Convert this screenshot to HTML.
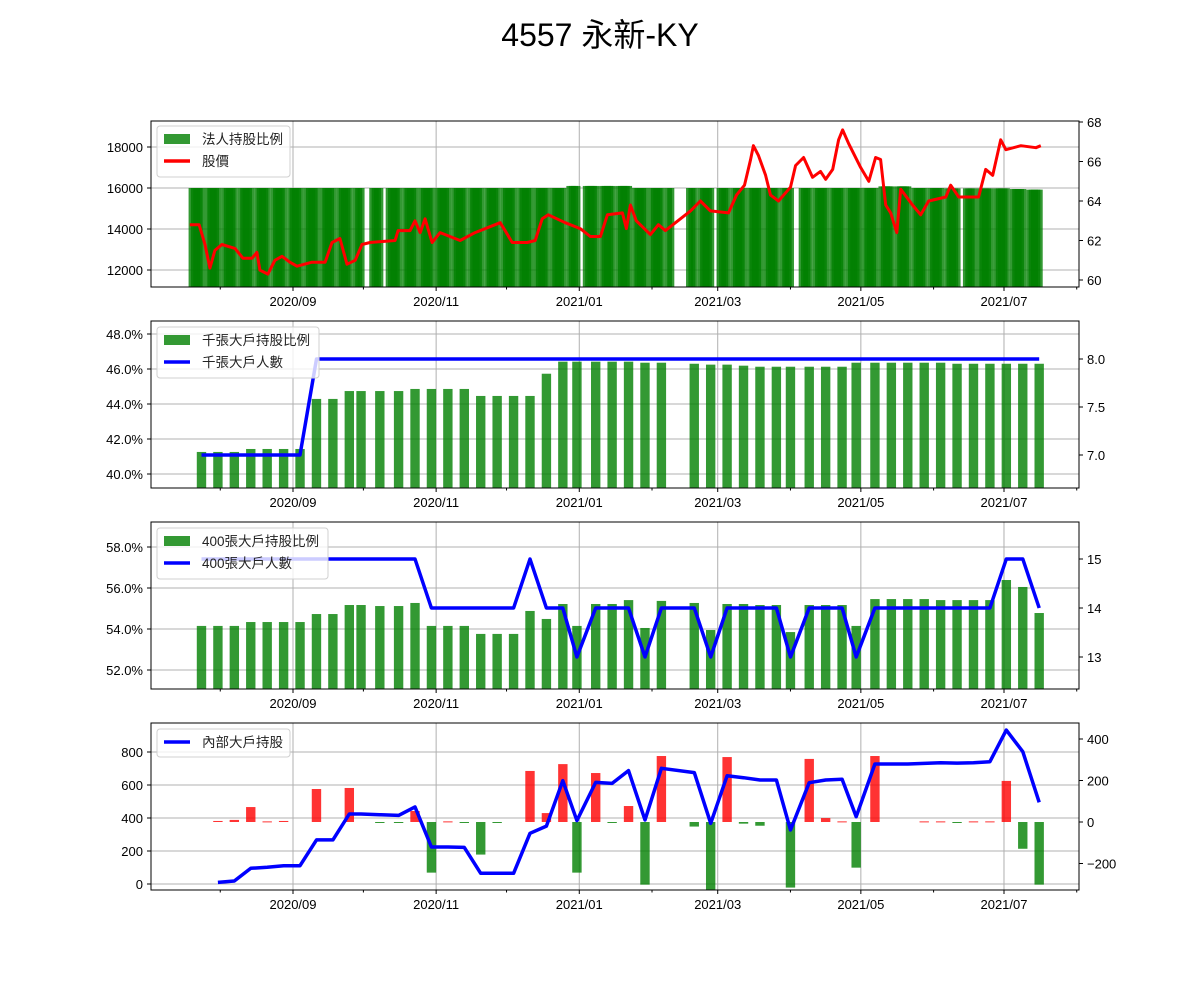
<!DOCTYPE html>
<html><head><meta charset="utf-8">
<style>
html,body{margin:0;padding:0;background:#fff;}
svg{display:block;font-family:"Liberation Sans","Noto Sans CJK TC",sans-serif;}
</style></head>
<body>
<svg id="chart" width="1200" height="1000" viewBox="0 0 1200 1000" xmlns="http://www.w3.org/2000/svg">
<text x="600" y="46" text-anchor="middle" font-size="32" fill="#000">4557 永新-KY</text>
</svg>
<script>
// Days are counted from 2020-09-01
const priceDay = [-44,-40,-37.5,-35.4,-33.3,-30.3,-24.7,-21.3,-17.5,-15.4,-14.1,-10.7,-7.7,-4.7,-1.3,1.7,8.1,13.7,16.6,20,23,26.5,29.4,32.8,43.5,44.8,49.9,52,54.2,56.3,59.3,62.7,71.2,77.6,84,88.3,90.4,93.4,99.8,103.2,106.2,108.8,116,122.4,126.7,131,134,140.4,142.1,143.8,146.3,152.3,155.7,158.7,169.4,173.6,177.9,185.6,189,192.4,195,196.2,198.4,201.4,203.5,206.9,212,214.2,217.6,221.4,224.8,227,230,232.5,234.2,236.8,241.9,245.4,248.3,250.4,252.6,254.7,257.3,259,264,267.5,270.9,278.2,280.3,283.7,292.2,295.2,298.2,301.6,303.8,310.2,316.6,318.7];
const priceVal = [62.8,62.8,61.8,60.6,61.5,61.8,61.6,61.1,61.1,61.4,60.5,60.3,61.0,61.2,60.9,60.7,60.9,60.9,61.9,62.1,60.8,61.0,61.8,61.9,62.0,62.5,62.5,63.0,62.4,63.1,61.9,62.4,62.0,62.4,62.7,62.9,62.5,61.9,61.9,62.0,63.1,63.3,62.9,62.6,62.2,62.2,63.3,63.4,62.6,63.8,63.0,62.3,62.8,62.5,63.5,64.0,63.5,63.4,64.3,64.8,66.1,66.8,66.3,65.3,64.3,64.0,64.7,65.8,66.2,65.2,65.5,65.1,65.6,67.1,67.6,66.9,65.7,65.0,66.2,66.1,63.8,63.4,62.4,64.6,63.8,63.3,64.0,64.2,64.8,64.2,64.2,65.6,65.3,67.1,66.6,66.8,66.7,66.8];
// institutional holding, one value per week starting 2020-07-20
const instWeekVal = [16000,16000,16000,16000,16000,16000,16000,16000,16000,16000,16000,16000,16000,16000,16000,16000,16000,16000,16000,16000,16000,16000,16000,16100,16100,16100,16100,16000,16000,16000,16000,16000,16000,16000,16000,16000,16000,16000,16000,16000,16000,16000,16080,16080,16000,16000,15980,15980,15980,15980,15950,15920];
const holidays = [30,31,38,122,162,163,164,165,166,167,168,181,213,216,286];
const wkDay = [-39,-32,-25,-18,-11,-4,3,10,17,24,29,37,45,52,59,66,73,80,87,94,101,108,115,121,129,136,143,150,157,171,178,185,192,199,206,212,220,227,234,240,248,255,262,269,276,283,290,297,304,311,318];
const big1000Pct = [41.26,41.26,41.26,41.43,41.43,41.43,41.43,44.29,44.29,44.74,44.74,44.74,44.74,44.86,44.86,44.86,44.86,44.46,44.46,44.46,44.46,45.73,46.42,46.42,46.42,46.42,46.42,46.36,46.36,46.30,46.25,46.25,46.19,46.13,46.13,46.13,46.13,46.13,46.13,46.36,46.36,46.36,46.36,46.36,46.36,46.30,46.30,46.30,46.30,46.30,46.30];
const big1000Cnt = [7,7,7,7,7,7,7,8,8,8,8,8,8,8,8,8,8,8,8,8,8,8,8,8,8,8,8,8,8,8,8,8,8,8,8,8,8,8,8,8,8,8,8,8,8,8,8,8,8,8,8];
const big400Pct = [54.15,54.15,54.15,54.34,54.34,54.34,54.34,54.73,54.73,55.17,55.17,55.12,55.12,55.27,54.15,54.15,54.15,53.76,53.76,53.76,54.88,54.49,55.22,54.15,55.22,55.22,55.41,54.05,55.37,55.27,53.95,55.22,55.22,55.17,55.17,53.85,55.17,55.17,55.17,54.15,55.46,55.46,55.46,55.46,55.41,55.41,55.41,55.41,56.39,56.05,54.78];
const big400Cnt = [15,15,15,15,15,15,15,15,15,15,15,15,15,15,14,14,14,14,14,14,15,14,14,13,14,14,14,13,14,14,13,14,14,14,14,13,14,14,14,13,14,14,14,14,14,14,14,14,15,15,14];
const insDay = [-32,-25,-18,-11,-4,3,10,17,24,29,37,45,52,59,66,73,80,87,94,101,108,115,121,129,136,143,150,157,171,178,185,192,199,206,212,220,227,234,240,248,255,262,269,276,283,290,297,304,311,318];
const insVal = [10,18,95,101,111,111,267,267,424,424,420,416,467,224,224,222,65,65,65,307,351,626,384,616,610,687,388,701,675,368,656,644,630,630,327,614,630,635,408,727,727,727,731,735,733,735,741,933,802,495];
const insChg = [5,10,72,3,5,0,159,0,164,0,-3,-3,53,-244,3,-3,-157,-3,0,246,43,279,-244,236,-3,77,-302,318,-22,-328,313,-8,-18,0,-316,304,19,3,-220,318,0,0,3,3,-3,3,3,198,-129,-302];
const xMajorDay = [0,61,122,181,242,303];
const xMajorLabel = ["2020/09","2020/11","2021/01","2021/03","2021/05","2021/07"];
const xMinorDay = [-31,30,91,153,212,273,334];

const NS = "http://www.w3.org/2000/svg";
const svg = document.getElementById("chart");
const AX_L = 151, AX_R = 1079;
function xs(d){ return 293 + d * 2.3465; }
function lin(v0, p0, v1, p1){ return v => p0 + (v - v0) * (p1 - p0) / (v1 - v0); }
function mk(tag, attrs, parent){
  const e = document.createElementNS(NS, tag);
  for (const k in attrs) e.setAttribute(k, attrs[k]);
  (parent || svg).appendChild(e);
  return e;
}

const panels = [
  {key:"institutional", top:121, bot:287, yL:lin(12000,270,18000,147), yR:lin(60,280,68,122),
   lt:[12000,14000,16000,18000], ltl:["12000","14000","16000","18000"],
   rt:[60,62,64,66,68], rtl:["60","62","64","66","68"]},
  {key:"big1000", top:321, bot:488, yL:lin(40,474,48,334), yR:lin(7,455,8,359),
   lt:[40,42,44,46,48], ltl:["40.0%","42.0%","44.0%","46.0%","48.0%"],
   rt:[7,7.5,8], rtl:["7.0","7.5","8.0"]},
  {key:"big400", top:522, bot:689, yL:lin(52,670,58,547), yR:lin(13,657,15,559),
   lt:[52,54,56,58], ltl:["52.0%","54.0%","56.0%","58.0%"],
   rt:[13,14,15], rtl:["13","14","15"]},
  {key:"insider", top:723, bot:890, yL:lin(0,884,800,752), yR:lin(0,822,400,739),
   lt:[0,200,400,600,800], ltl:["0","200","400","600","800"],
   rt:[-200,0,200,400], rtl:["−200","0","200","400"]}
];

panels.forEach((p, pi) => {
  const g = mk("g", {});
  
  
  const clip = mk("clipPath", {id:"clip"+pi}, g);
  mk("rect", {x:AX_L, y:p.top, width:AX_R-AX_L, height:p.bot-p.top}, clip);
  // grid
  xMajorDay.forEach(d => {
    const l = mk("line", {x1:xs(d), x2:xs(d), y1:p.top, y2:p.bot, stroke:"#b0b0b0", "stroke-width":1}, g);
    
    
  });
  p.lt.forEach(v => {
    const l = mk("line", {x1:AX_L, x2:AX_R, y1:p.yL(v), y2:p.yL(v), stroke:"#b0b0b0", "stroke-width":1}, g);
    
    
  });
  p.g = g;
  p.plot = mk("g", {"clip-path":"url(#clip"+pi+")"}, g);
});

// Panel 1: institutional bars (daily, weekly values)
(function(){
  const p = panels[0];
  for (let d = -43; d <= 318; d++) {
    const dow = (((d % 7) + 7) % 7 + 2) % 7;
    if (dow === 0 || dow === 6 || holidays.indexOf(d) >= 0) continue;
    const v = instWeekVal[Math.floor((d + 43) / 7)];
    const w = 3 * 2.3465;
    const r = mk("rect", {x:xs(d)-w/2, y:p.yL(v), width:w, height:p.bot-p.yL(v), fill:"#008000", "fill-opacity":0.8}, p.plot);
    
    
  }
  const pts = priceDay.map((d,i)=>xs(d).toFixed(1)+","+p.yR(priceVal[i]).toFixed(1)).join(" ");
  const pl = mk("polyline", {points:pts, fill:"none", stroke:"#ff0000", "stroke-width":3, "stroke-linejoin":"round"}, p.plot);
  
  
})();

function weeklyBars(p, days, vals, name){
  const w = 4 * 2.3465;
  days.forEach((d,i) => {
    const y = p.yL(vals[i]);
    const r = mk("rect", {x:xs(d)-w/2, y:y, width:w, height:p.bot-y, fill:"#008000", "fill-opacity":0.8}, p.plot);
    
    
  });
}
function line(p, days, vals, scale, color, name){
  const pts = days.map((d,i)=>xs(d).toFixed(1)+","+scale(vals[i]).toFixed(1)).join(" ");
  const pl = mk("polyline", {points:pts, fill:"none", stroke:color, "stroke-width":3.5, "stroke-linejoin":"round"}, p.plot);
  
  
}
function legend(p, x, y, w, h, items){
  const lg = mk("g", {}, p.g);
  
  
  mk("rect", {x:x, y:y, width:w, height:h, rx:3, fill:"#fff", "fill-opacity":0.8, stroke:"#d0d0d0"}, lg);
  items.forEach((it,i) => {
    const cy = y + 13 + i*22;
    if (it.type === "bar") {
      const s = mk("rect", {x:x+7, y:cy-5, width:26, height:10, fill:"#008000", "fill-opacity":0.8}, lg);
      
      
    } else {
      const s = mk("line", {x1:x+7, x2:x+33, y1:cy, y2:cy, stroke:it.color, "stroke-width":3.5}, lg);
      
      
    }
    const t = mk("text", {x:x+45, y:cy+5, "font-size":13.5, fill:"#222"}, lg);
    t.textContent = it.label;
    
    
  });
}

legend(panels[0], 157, 126, 133, 51, [{type:"bar",label:"法人持股比例"},{type:"line",color:"#ff0000",label:"股價"}]);

weeklyBars(panels[1], wkDay, big1000Pct, "big1000-pct-bar");
legend(panels[1], 157, 327, 162, 51, [{type:"bar",label:"千張大戶持股比例"},{type:"line",color:"#0000ff",label:"千張大戶人數"}]);
line(panels[1], wkDay, big1000Cnt, panels[1].yR, "#0000ff", "big1000-count-line");

weeklyBars(panels[2], wkDay, big400Pct, "big400-pct-bar");
legend(panels[2], 157, 528, 171, 51, [{type:"bar",label:"400張大戶持股比例"},{type:"line",color:"#0000ff",label:"400張大戶人數"}]);
line(panels[2], wkDay, big400Cnt, panels[2].yR, "#0000ff", "big400-count-line");

(function(){
  const p = panels[3];
  const w = 4 * 2.3465;
  const y0 = p.yR(0);
  insDay.forEach((d,i) => {
    const v = insChg[i];
    if (v === 0) return;
    const y = p.yR(v);
    const r = mk("rect", {x:xs(d)-w/2, y:Math.min(y,y0), width:w, height:Math.max(1,Math.abs(y-y0)), fill:v>0?"#ff0000":"#008000", "fill-opacity":0.8}, p.plot);
    
    
  });
  line(p, insDay, insVal, p.yL, "#0000ff", "insider-holding-line");
  legend(p, 157, 729, 133, 28, [{type:"line",color:"#0000ff",label:"內部大戶持股"}]);
})();

// axes, ticks, labels
panels.forEach(p => {
  const a = mk("g", {}, p.g);
  
  
  mk("rect", {x:AX_L, y:p.top, width:AX_R-AX_L, height:p.bot-p.top, fill:"none", stroke:"#000", "stroke-width":1}, a);
  xMajorDay.forEach((d,i) => {
    mk("line", {x1:xs(d), x2:xs(d), y1:p.bot, y2:p.bot+4, stroke:"#000"}, a);
    const t = mk("text", {x:xs(d), y:p.bot+19, "text-anchor":"middle", "font-size":13, fill:"#000"}, a);
    t.textContent = xMajorLabel[i];
    
    
  });
  xMinorDay.forEach(d => mk("line", {x1:xs(d), x2:xs(d), y1:p.bot, y2:p.bot+2.5, stroke:"#000"}, a));
  p.lt.forEach((v,i) => {
    mk("line", {x1:AX_L-4, x2:AX_L, y1:p.yL(v), y2:p.yL(v), stroke:"#000"}, a);
    const t = mk("text", {x:AX_L-8, y:p.yL(v)+5, "text-anchor":"end", "font-size":13, fill:"#000"}, a);
    t.textContent = p.ltl[i];
    
    
  });
  p.rt.forEach((v,i) => {
    mk("line", {x1:AX_R, x2:AX_R+4, y1:p.yR(v), y2:p.yR(v), stroke:"#000"}, a);
    const t = mk("text", {x:AX_R+8, y:p.yR(v)+5, "text-anchor":"start", "font-size":13, fill:"#000"}, a);
    t.textContent = p.rtl[i];
    
    
  });
});
</script>
</body></html>
